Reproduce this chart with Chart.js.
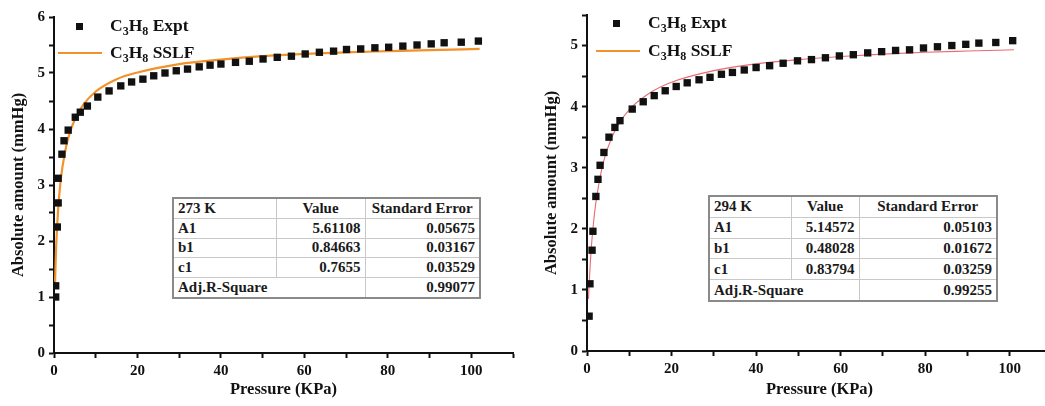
<!DOCTYPE html>
<html>
<head>
<meta charset="utf-8">
<script src="https://cdn.jsdelivr.net/npm/chart.js@4.4.1/dist/chart.umd.min.js"></script>
<style>
  html, body { margin:0; padding:0; background:#fff; width:1045px; height:406px; overflow:hidden; position:relative; }
  .cw { position:absolute; top:0; height:406px; }
  .legend { position:absolute; font-family:"Liberation Serif","Times New Roman",serif; font-weight:bold; font-size:17.5px; color:#111; white-space:nowrap; line-height:18px; }
  .legend sub { font-size:12px; vertical-align:-4px; line-height:0; }
  .mk { position:absolute; }
  table.st { position:absolute; border-collapse:collapse; font-family:"Liberation Serif","Times New Roman",serif; font-weight:bold; font-size:15px; color:#1a1a1a; background:#fff; border:2px solid #8a8a8a; table-layout:fixed; }
  table.st td { border:1px solid #c8c8c8; padding:0 4px; white-space:nowrap; }
  table.st td.r { text-align:right; }
  table.st td.c { text-align:center; }
</style>
</head>
<body>
<div class="cw" style="left:0;width:525px;"><canvas id="c1"></canvas></div>
<div class="cw" style="left:533px;width:525px;"><canvas id="c2"></canvas></div>

<!-- legends -->
<div class="mk" style="left:76px;top:23px;width:7px;height:7px;background:#111;"></div>
<div class="legend" style="left:110px;top:16px;">C<sub>3</sub>H<sub>8</sub> Expt</div>
<div class="mk" style="left:58px;top:52px;width:44px;height:2px;background:#f2922a;"></div>
<div class="legend" style="left:110px;top:43px;">C<sub>3</sub>H<sub>8</sub> SSLF</div>

<div class="mk" style="left:613px;top:20px;width:7px;height:7px;background:#111;"></div>
<div class="legend" style="left:648px;top:13px;">C<sub>3</sub>H<sub>8</sub> Expt</div>
<div class="mk" style="left:596px;top:50px;width:44px;height:2px;background:#f2922a;"></div>
<div class="legend" style="left:648px;top:41px;">C<sub>3</sub>H<sub>8</sub> SSLF</div>

<table class="st" id="t1" style="left:172px;top:197px;width:307px;height:102px;"></table>
<table class="st" id="t2" style="left:708px;top:195px;width:288px;height:107px;"></table>

<script>
// ---------- data ----------
const expt273P = [0.4,0.4,0.8,1.0,1.0,1.9,2.4,3.4,5.1,6.3,8.0,10.5,13.2,16.0,18.6,21.3,23.9,26.6,29.3,32.0,34.8,37.4,40.0,43.5,46.8,50.1,53.5,56.9,60.2,63.6,67.0,70.1,73.5,76.9,80.2,83.6,87.0,90.4,93.5,97.6,101.7];
const expt273Q = [1.00,1.20,2.25,2.68,3.12,3.55,3.79,3.98,4.21,4.30,4.41,4.57,4.68,4.77,4.84,4.89,4.95,5.00,5.04,5.07,5.11,5.14,5.16,5.19,5.21,5.25,5.28,5.30,5.34,5.37,5.39,5.42,5.43,5.45,5.46,5.48,5.50,5.52,5.54,5.55,5.57];
const fit273P = [0.25,0.5,1,1.5,2,3,4,5,7,10,15,20,30,40,50,60,70,80,90,102];
const fit273Q = [1.27,1.87,2.57,3.01,3.31,3.72,3.98,4.17,4.43,4.67,4.89,5.01,5.16,5.24,5.30,5.34,5.37,5.39,5.41,5.43];

const expt294P = [0.5,0.7,1.2,1.4,2.1,2.6,3.1,4.0,5.2,6.6,7.8,10.7,13.3,15.9,18.5,21.1,23.7,26.5,29.1,31.8,34.4,37.2,40.0,43.2,46.4,49.8,53.1,56.4,59.7,63.0,66.4,69.7,73.0,76.3,79.6,82.9,86.3,89.6,92.7,96.7,100.7];
const expt294Q = [0.57,1.10,1.65,1.96,2.53,2.81,3.04,3.25,3.50,3.66,3.77,3.96,4.08,4.18,4.26,4.33,4.39,4.44,4.48,4.53,4.56,4.60,4.64,4.67,4.71,4.75,4.77,4.80,4.83,4.85,4.88,4.90,4.92,4.93,4.96,4.98,5.00,5.02,5.04,5.05,5.08];
const fit294P = [0.35,0.5,1,1.5,2,3,4,5,7,10,15,20,30,40,50,60,70,80,90,101];
const fit294Q = [0.85,1.09,1.67,2.07,2.38,2.81,3.12,3.34,3.66,3.95,4.23,4.40,4.59,4.70,4.77,4.82,4.86,4.89,4.91,4.93];

const tableHead = ["Value","Standard Error"];
const params = ["A1","b1","c1"];
const val273 = ["5.61108","0.84663","0.7655"];
const err273 = ["0.05675","0.03167","0.03529"];
const r2_273 = "0.99077";
const val294 = ["5.14572","0.48028","0.83794"];
const err294 = ["0.05103","0.01672","0.03259"];
const r2_294 = "0.99255";

const seriesNames = ["C₃H₈ Expt","C₃H₈ SSLF"];
const xTitle = "Pressure (KPa)";
const yTitle = "Absolute amount (mmHg)";

// ---------- helpers ----------
const zip = (xs, ys) => xs.map((x,i) => ({x, y: ys[i]}));
const FONT = "'Liberation Serif','Times New Roman',serif";

function buildTable(id, label, vals, errs, r2, widths) {
  const t = document.getElementById(id);
  let h = `<colgroup>${widths.map(w=>`<col style="width:${w}px">`).join('')}</colgroup>`;
  h += `<tr><td>${label}</td><td class="c">${tableHead[0]}</td><td class="c">${tableHead[1]}</td></tr>`;
  params.forEach((p,i) => { h += `<tr><td>${p}</td><td class="r">${vals[i]}</td><td class="r">${errs[i]}</td></tr>`; });
  h += `<tr><td colspan="2">Adj.R-Square</td><td class="r">${r2}</td></tr>`;
  t.innerHTML = h;
}
buildTable('t1', '273 K', val273, err273, r2_273, [103,89,115]);
buildTable('t2', '294 K', val294, err294, r2_294, [82,68,138]);

function makeChart(id, ex, fit, lineColor, lineWidth, yMax, yAxisW, xAxisH, padTop, padRight) {
  return new Chart(document.getElementById(id), {
    type: 'scatter',
    data: {
      datasets: [
        { label: seriesNames[1], data: fit, showLine: true, borderColor: lineColor, borderWidth: lineWidth,
          pointRadius: 0, cubicInterpolationMode: 'monotone', fill: false, order: 2 },
        { label: seriesNames[0], data: ex, pointStyle: 'rect', pointRadius: 5.2, pointHoverRadius: 5.2,
          backgroundColor: '#111', borderColor: '#111', borderWidth: 0, showLine: false, order: 1 }
      ]
    },
    options: {
      responsive: false, animation: false, maintainAspectRatio: false,
      layout: { padding: { top: padTop, right: padRight, left: 0, bottom: 0 } },
      plugins: { legend: { display: false }, tooltip: { enabled: false } },
      scales: {
        x: {
          type: 'linear', min: 0, max: 110,
          border: { display: true, color: '#111', width: 2 },
          grid: { drawOnChartArea: false, drawTicks: true, tickLength: 5, tickColor: '#111', tickWidth: 2 },
          ticks: { stepSize: 10, color: '#111', padding: 4, maxRotation: 0,
                   font: { family: FONT, size: 15, weight: 'bold' },
                   callback: v => (v % 20 === 0 && v <= 100) ? String(v) : '' },
          title: { display: true, text: xTitle, color: '#111', padding: { top: 0, bottom: 6 },
                   font: { family: FONT, size: 16.5, weight: 'bold' } },
          afterFit: s => { s.height = xAxisH; }
        },
        y: {
          type: 'linear', min: 0, max: yMax,
          border: { display: true, color: '#111', width: 2 },
          grid: { drawOnChartArea: false, drawTicks: true, tickLength: 5, tickColor: '#111', tickWidth: 2 },
          ticks: { stepSize: 0.5, color: '#111', padding: 4,
                   font: { family: FONT, size: 15, weight: 'bold' },
                   callback: v => Number.isInteger(v) ? String(v) : '' },
          title: { display: true, text: yTitle, color: '#111', padding: { top: 9, bottom: 0 },
                   font: { family: FONT, size: 16.5, weight: 'bold' } },
          afterFit: s => { s.width = yAxisW; }
        }
      }
    }
  });
}

const c1 = document.getElementById('c1'); c1.width = 525; c1.height = 406;
const c2 = document.getElementById('c2'); c2.width = 525; c2.height = 406;
makeChart('c1', zip(expt273P, expt273Q), zip(fit273P, fit273Q), '#f2922a', 2.2, 6, 54, 53, 17, 12);
makeChart('c2', zip(expt294P, expt294Q), zip(fit294P, fit294Q), '#e86a72', 1.1, 5.5, 54, 55, 15, 6);
</script>
</body>
</html>
